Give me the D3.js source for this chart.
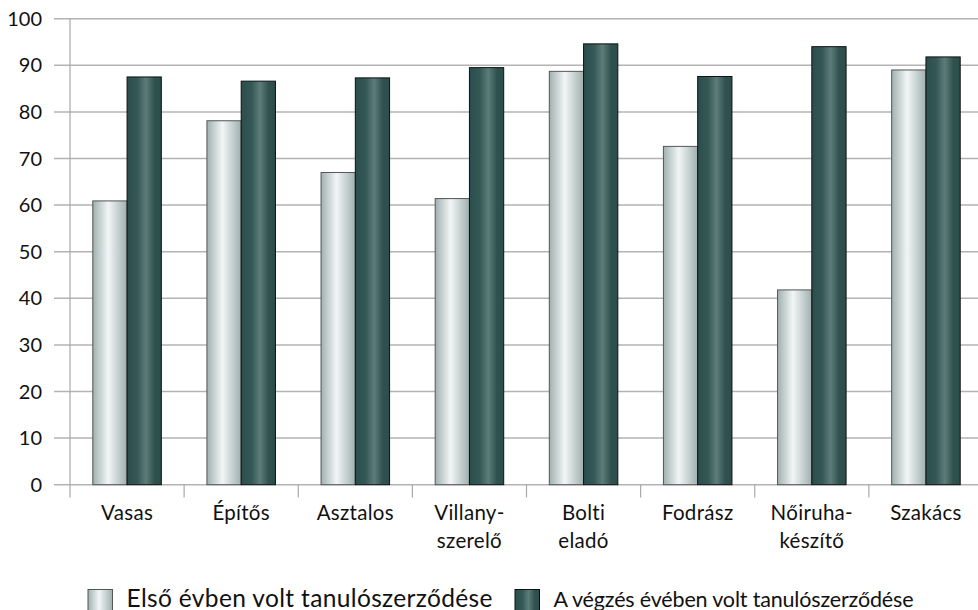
<!DOCTYPE html>
<html><head><meta charset="utf-8">
<script src="https://cdn.jsdelivr.net/npm/d3@7"></script>
<style>body{margin:0;background:#fff}svg{display:block}text{font-family:Lato,"Open Sans",sans-serif;fill:#111}</style>
</head><body><svg id="c" width="978" height="610"></svg>
<script>
const categories = [["Vasas"],["Építős"],["Asztalos"],["Villany-","szerelő"],["Bolti","eladó"],["Fodrász"],["Nőiruha-","készítő"],["Szakács"]];
const seriesNames = ["Első évben volt tanulószerződése","A végzés évében volt tanulószerződése"];
const firstYear = [60.9, 78.1, 67.0, 61.4, 88.7, 72.6, 41.8, 89.0];
const finalYear = [87.5, 86.6, 87.3, 89.5, 94.6, 87.6, 94.0, 91.8];
const yTicks = [0,10,20,30,40,50,60,70,80,90,100];

const svg = d3.select("#c");
const defs = svg.append("defs");
function grad(id, stops){
  const g = defs.append("linearGradient").attr("id",id).attr("x1","0").attr("x2","1").attr("y1","0").attr("y2","0");
  stops.forEach(s=>g.append("stop").attr("offset",s[0]).attr("stop-color",s[1]));
}
grad("gLight",[[0,"#a0b1b0"],[0.45,"#f2f5f5"],[1,"#9fb0af"]]);
grad("gDark",[[0,"#2b4e4c"],[0.3,"#345856"],[0.55,"#5d7c7a"],[0.8,"#30524f"],[1,"#2b4e4c"]]);

const x0 = d3.scaleBand().domain(d3.range(categories.length)).range([70, 983]).paddingInner(0).paddingOuter(0);
const x1 = d3.scaleBand().domain([0,1]).range([22.8, x0.bandwidth()-22.8]);
const y = d3.scaleLinear().domain([0,100]).range([484.7, 18.7]);

svg.append("g").selectAll("line").data(yTicks).join("line")
  .attr("x1",54).attr("x2",978).attr("y1",d=>y(d)).attr("y2",d=>y(d))
  .attr("stroke","#b3b3b3").attr("stroke-width",1.5);
svg.append("line").attr("x1",70).attr("x2",70).attr("y1",y(100)).attr("y2",497.5).attr("stroke","#a8a8a8").attr("stroke-width",1.2);
svg.append("g").selectAll("line").data(d3.range(1,categories.length)).join("line")
  .attr("x1",d=>x0(d)).attr("x2",d=>x0(d)).attr("y1",y(0)).attr("y2",497.5).attr("stroke","#a8a8a8").attr("stroke-width",1.2);
svg.append("g").selectAll("text").data(yTicks).join("text")
  .attr("x",42).attr("y",d=>y(d)+7).attr("text-anchor","end").attr("font-size",20).text(d=>d);

const series = [firstYear, finalYear];
const fills = ["url(#gLight)","url(#gDark)"];
const strokes = ["#555","#111"];
series.forEach((vals,si)=>{
  svg.append("g").selectAll("rect").data(vals).join("rect")
    .attr("x",(d,i)=>x0(i)+x1(si)).attr("width",x1.bandwidth())
    .attr("y",d=>y(d)).attr("height",d=>y(0)-y(d))
    .attr("fill",fills[si]).attr("stroke",strokes[si]).attr("stroke-width",1);
});

const xl = svg.append("g").selectAll("text").data(categories).join("text")
  .attr("text-anchor","middle").attr("font-size",20.5).attr("letter-spacing",0.3)
  .attr("transform",(d,i)=>`translate(${x0(i)+x0.bandwidth()/2},520)`);
xl.selectAll("tspan").data(d=>d).join("tspan").attr("x",0).attr("dy",(d,i)=>i?28:0).text(d=>d);

const legX = [88, 515];
const legW = [366, 360];
const legFs = [24.5, 21.5];
seriesNames.forEach((n,i)=>{
  const g = svg.append("g").attr("transform",`translate(${legX[i]},589.5)`);
  g.append("rect").attr("width",24.5).attr("height",24.5).attr("fill",fills[i]).attr("stroke",strokes[i]).attr("stroke-width",1);
  g.append("text").attr("x",38.5).attr("y",17.5).attr("font-size",legFs[i])
    .attr("textLength",legW[i]).attr("lengthAdjust","spacing").text(n);
});
</script></body></html>
